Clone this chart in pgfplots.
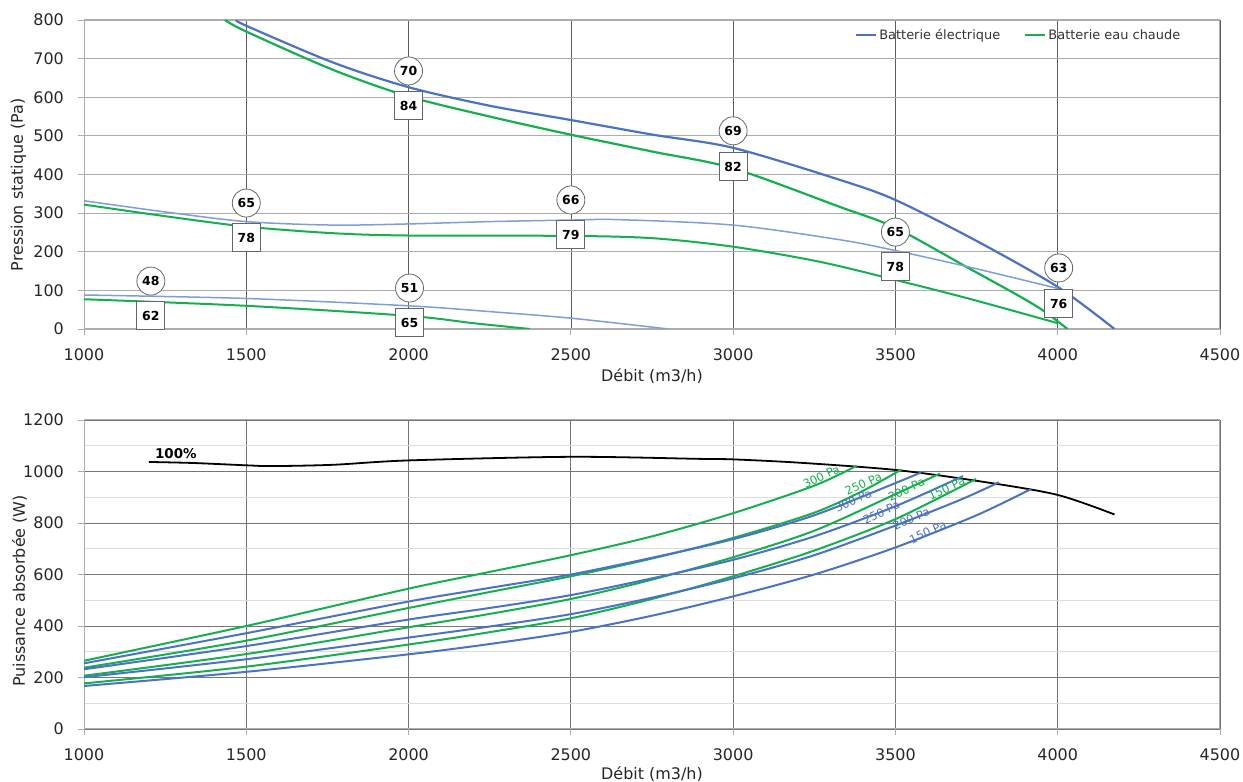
\documentclass[border=0pt]{standalone}
\usepackage{pgfplots}
\pgfplotsset{compat=1.18}
\usepackage{fontspec}
\setmainfont{DejaVu Sans}
\definecolor{cblue}{HTML}{4A72C8}
\definecolor{cblueL}{HTML}{7E9DDC}
\definecolor{cgreen}{HTML}{14B04E}
\definecolor{gridh}{HTML}{ADADAD}
\definecolor{gridv}{HTML}{5E5E5E}
\definecolor{gridl}{HTML}{DCDCDC}

\pgfplotsset{
  base/.style={
    scale only axis, width=1136bp, height=309bp,
    xmin=1000, xmax=4500, xtick={1000,1500,...,4500},
    tick align=outside, major tick length=6bp, minor tick length=0pt,
    xtick pos=left, ytick pos=left,
    tick style={color=gridh, line width=0.8bp},
    axis line style={draw=gridh, line width=1bp},
    ticklabel style={font=\fontsize{16}{19}\selectfont, text=black!85, inner sep=0pt},
    yticklabel style={anchor=east, xshift=-14bp},
    xticklabel style={anchor=north, yshift=-13bp},
    label style={font=\fontsize{16}{19}\selectfont, text=black!85},
    xlabel={Débit (m3/h)},
    scaled ticks=false,
    /pgf/number format/1000 sep={},
    /pgf/number format/assume math mode=true,
    grid=major,
    clip=true,
  },
  lbl/.style={draw=none, mark=none, nodes near coords, point meta=explicit symbolic,
    nodes near coords style={anchor=center, draw=black!60, fill=white, text=black,
      line width=0.8bp, inner sep=0pt, font=\fontsize{12.5}{13}\selectfont\bfseries}},
}

\begin{document}
\begin{tikzpicture}[x=1bp,y=1bp]
\useasboundingbox (0,0) rectangle (1243,782);

% ---------------- TOP ----------------
\begin{axis}[base,
  at={(84bp,453bp)}, anchor=south west,
  ymin=0, ymax=800, ytick={0,100,...,800},
  ylabel={Pression statique  (Pa)},
  every axis x grid/.style={gridv, line width=0.6bp},
  every axis y grid/.style={gridh, line width=1.1bp},
  xlabel style={at={(axis description cs:0.5,-0.152)}, anchor=center},
  ylabel style={at={(axis description cs:-0.0577,0.466)}, anchor=center, rotate=0},
  legend style={at={(axis description cs:0.676,0.951)}, anchor=west, draw=none, fill=none,
    font=\fontsize{13}{15}\selectfont, text=black!80, legend columns=2,
    /tikz/every even column/.append style={column sep=22bp}},
  legend image code/.code={\draw[#1, line width=2.2bp] (0bp,0bp) -- (20bp,0bp);},
]
\addplot[cblue, line width=2.2bp, smooth, tension=0.5] coordinates {
 (1470,800) (1500,785) (1767,690) (2000,626) (2250,578) (2500,541) (2753,503)
 (3000,469) (3329,386) (3500,334) (3750,228) (4000,109) (4175,0)};
\addlegendentry{Batterie électrique}
\addplot[cgreen, line width=2.2bp, smooth, tension=0.5] coordinates {
 (1434,800) (1500,770) (1767,671) (2000,602) (2250,550) (2500,503) (2753,459)
 (3000,416) (3329,316) (3500,262) (3729,156) (3884,84) (3960,45) (4030,0)};
\addlegendentry{Batterie eau chaude}
\addplot[cblueL, line width=1.5bp, smooth, tension=0.5, forget plot] coordinates {
 (1000,332) (1250,303) (1500,278) (1767,269) (2000,272) (2250,278) (2500,282)
 (2650,283) (3000,269) (3329,231) (3500,203) (3729,160) (4000,105)};
\addplot[cgreen, line width=2bp, smooth, tension=0.5, forget plot] coordinates {
 (1000,322) (1250,292) (1500,265) (1767,248) (2000,242) (2500,241) (2753,235)
 (3000,213) (3267,174) (3500,127) (3729,78) (4000,15)};
\addplot[cblueL, line width=1.5bp, smooth, tension=0.5, forget plot] coordinates {
 (1000,88) (1500,79) (2000,60) (2250,45) (2500,28) (2800,0)};
\addplot[cgreen, line width=2bp, smooth, tension=0.5, forget plot] coordinates {
 (1000,77) (1500,60) (2000,34) (2200,15) (2374,0)};
% circle labels
\addplot[lbl, forget plot, nodes near coords style={circle, minimum size=28bp}] table[meta=l] {
x y l
2000 668 70
1500 326 65
1206 124 48
2003 106 51
2500 334 66
3000 513 69
3500 251 65
4003 158 63
};
% box labels
\addplot[lbl, forget plot, nodes near coords style={rectangle, minimum size=28bp}] table[meta=l] {
x y l
2000 578 84
1500 236 78
1206 34 62
2003 16 65
2500 244 79
3000 420 82
3500 161 78
4003 65 76
};
\end{axis}

% ---------------- BOTTOM ----------------
\begin{axis}[base,
  at={(84bp,53bp)}, anchor=south west,
  ymin=0, ymax=1200, ytick={0,200,...,1200}, minor ytick={100,300,...,1100},
  ylabel={Puissance absorbée (W)},
  major grid style={color=gridv!85, line width=0.8bp},
  minor grid style={color=gridl, line width=1.1bp},
  every axis x grid/.style={color=black!55, line width=0.7bp},
  yminorgrids=true,
  xlabel style={at={(axis description cs:0.5,-0.146)}, anchor=center},
  ylabel style={at={(axis description cs:-0.0568,0.447)}, anchor=center, rotate=0},
]
\addplot[black, line width=1.8bp, smooth, tension=0.5] coordinates {
 (1200,1037) (1336,1033) (1500,1024) (1580,1021) (1767,1026) (2000,1043)
 (2500,1057) (2898,1049) (3000,1047) (3206,1034) (3500,1006) (3770,960)
 (4000,909) (4175,833)};
% green (eau chaude) 300, 250, 200, 150 Pa
\addplot[cgreen, line width=2bp, smooth, tension=0.5] coordinates {
 (1000,265) (1500,400) (2000,545) (2250,610) (2500,675) (2750,748) (3000,838) (3250,945) (3380,1022)};
\addplot[cgreen, line width=2bp, smooth, tension=0.5] coordinates {
 (1000,238) (1500,343) (2000,470) (2250,532) (2500,593) (2750,662) (3000,742) (3250,840) (3400,925) (3519,1008)};
\addplot[cgreen, line width=2bp, smooth, tension=0.5] coordinates {
 (1000,207) (1500,291) (2000,395) (2250,447) (2500,505) (2750,580) (3000,667) (3250,770) (3500,912) (3637,992)};
\addplot[cgreen, line width=2bp, smooth, tension=0.5] coordinates {
 (1000,177) (1500,242) (2000,328) (2250,376) (2500,430) (2750,505) (3000,593) (3250,693) (3500,815) (3748,971)};
% blue (electrique) 300, 250, 200, 150 Pa
\addplot[cblue, line width=2bp, smooth, tension=0.5] coordinates {
 (1000,255) (1500,372) (2000,495) (2250,548) (2500,600) (2750,665) (3000,737) (3250,830) (3500,955) (3580,997)};
\addplot[cblue, line width=2bp, smooth, tension=0.5] coordinates {
 (1000,232) (1500,322) (2000,425) (2250,470) (2500,520) (2750,585) (3000,657) (3250,748) (3500,865) (3708,982)};
\addplot[cblue, line width=2bp, smooth, tension=0.5] coordinates {
 (1000,201) (1500,271) (2000,355) (2250,398) (2500,446) (2750,510) (3000,585) (3250,675) (3500,790) (3700,890) (3819,958)};
\addplot[cblue, line width=2bp, smooth, tension=0.5] coordinates {
 (1000,167) (1500,222) (2000,290) (2250,330) (2500,377) (2750,440) (3000,515) (3250,600) (3500,705) (3750,830) (3918,932)};

\node[font=\fontsize{13.5}{14}\selectfont\bfseries, text=black] at (axis cs:1283,1068) {100\%};
\begin{scope}[every node/.style={font=\fontsize{11.5}{12}\selectfont, rotate=25, inner sep=0pt}]
\node[text=cgreen] at (axis cs:3272,980) {300 Pa};
\node[text=cgreen] at (axis cs:3401,952) {250 Pa};
\node[text=cblue]  at (axis cs:3370,887) {300 Pa};
\node[text=cgreen] at (axis cs:3534,931) {200 Pa};
\node[text=cblue]  at (axis cs:3457,842) {250 Pa};
\node[text=cgreen] at (axis cs:3658,935) {150 Pa};
\node[text=cblue]  at (axis cs:3549,816) {200 Pa};
\node[text=cblue]  at (axis cs:3600,765) {150 Pa};
\end{scope}
\end{axis}
\end{tikzpicture}
\end{document}
